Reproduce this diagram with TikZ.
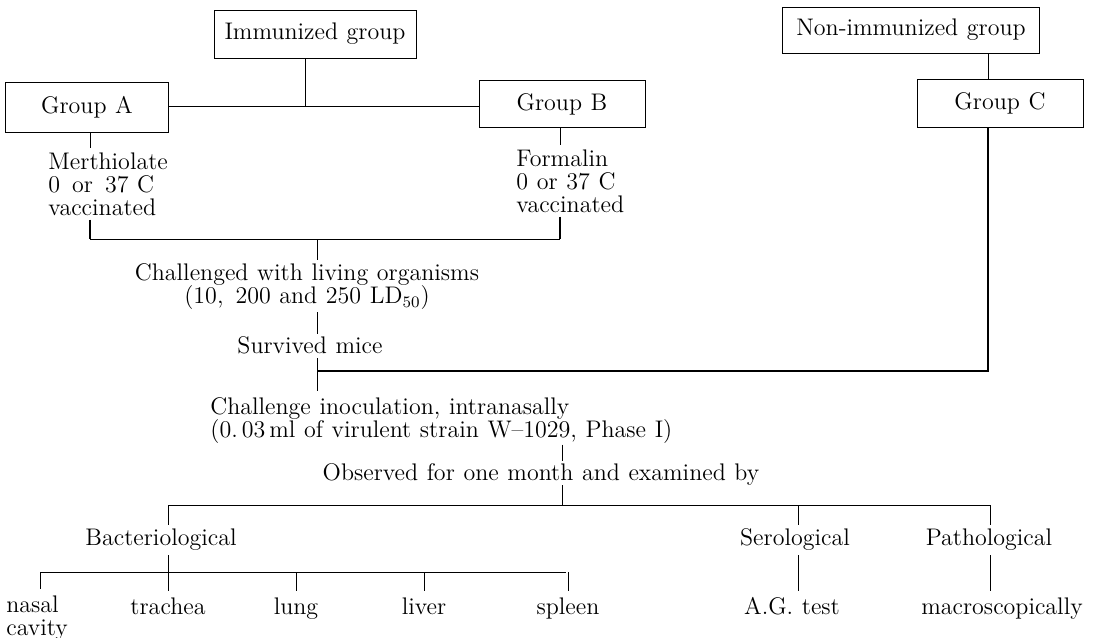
\documentclass[tikz,border=0pt]{standalone}
\usepackage{tikz}
\newcommand\diagfont{\fontsize{12}{10}\selectfont\spaceskip=0.36em plus 0.1em\relax}
\newcommand\stackfont{\fontsize{12}{11.5}\selectfont\spaceskip=0.36em plus 0.1em\relax}
\begin{document}
\begin{tikzpicture}[x=0.5pt, y=-0.5pt,
    every node/.style={font=\diagfont, inner sep=0pt},
    grp/.style={draw, line width=0.45pt, minimum height=24pt},
    stack/.style={align=left, anchor=north west, font=\stackfont},
    link/.style={line width=0.45pt},
    heavy/.style={line width=0.9pt}]
  \useasboundingbox (0,0) rectangle (1094,638);
  % groups
  \node[grp, minimum width=101pt] (imm) at (315,34) {Immunized group};
  \node[grp, minimum width=81.5pt, minimum height=25pt] (grpA) at (87,107) {Group A};
  \node[grp, minimum width=83pt, minimum height=23.5pt] (grpB) at (562,104) {Group B};
  \node[grp, minimum width=128.5pt, minimum height=23pt] (nonimm) at (911,30) {Non-immunized group};
  \node[grp, minimum width=83pt] (grpC) at (1000,103) {Group C};
  \coordinate (jImm) at (305,106);
  \coordinate (vA) at (90,239);
  \coordinate (vB) at (560,239);
  \coordinate (jMid) at (317,239);
  \coordinate (jSurv) at (317,371);
  \coordinate (jC) at (988,371);
  \draw[link] (imm.south -| jImm) -- (jImm);
  \draw[link] (grpA.east |- jImm) -- (grpB.west |- jImm);
  \draw[link] (nonimm.south -| jC) -- (grpC.north -| jC);
  % vaccines
  \node[stack] (mert) at (48,152) {Merthiolate\\0\enspace or\enspace 37 C\\vaccinated};
  \node[stack] (form) at (516,149) {Formalin\\0 or 37 C\\vaccinated};
  \draw[link] (grpA.south -| vA) -- ([yshift=2pt]mert.north -| vA);
  \draw[link] (grpB.south -| vB) -- ([yshift=2pt]form.north -| vB);
  \draw[heavy] ([yshift=-2pt]mert.south -| vA) -- (vA);
  \draw[heavy] ([yshift=-2pt]form.south -| vB) -- (vB);
  \draw[link] (vA) -- (vB);
  % challenge
  \node[stack, align=center, anchor=center] (chal) at (307,287) {Challenged with living organisms\\(10,\enspace 200 and 250 LD\textsubscript{50})};
  \node (surv) at (310,345) {Survived mice};
  \node[stack] (inoc) at (210,397) {Challenge inoculation, intranasally\\(0.\,03\,ml of virulent strain W--1029, Phase I)};
  \draw[link] (jMid) -- ([yshift=2pt]chal.north -| jMid);
  \draw[link] ([yshift=-1pt]chal.south -| jMid) -- ([yshift=1pt]surv.north -| jMid);
  \draw[link] ([yshift=-2pt]surv.south -| jMid) -- ([yshift=3pt]inoc.north -| jMid);
  \draw[heavy] (grpC.south -| jC) -- (jC) -- (jSurv);
  % examination
  \node (obs) at (541,474) {Observed for one month and examined by};
  \coordinate (vObs) at (562,505);
  \coordinate (bTop) at (168,505);
  \coordinate (sTop) at (798,505);
  \coordinate (pTop) at (990,505);
  \draw[link] ([yshift=-0.5pt]inoc.south -| vObs) -- ([yshift=1pt]obs.north -| vObs);
  \draw[link] (obs.south -| vObs) -- (vObs);
  \draw[link] (bTop) -- (pTop);
  \node (bact) at (161,540) {Bacteriological};
  \node (sero) at (795,540) {Serological};
  \node (path) at (989,540) {Pathological};
  \draw[link] (bTop) -- ([yshift=2pt]bact.north -| bTop);
  \draw[link] (sTop) -- ([yshift=2pt]sero.north -| sTop);
  \draw[link] (pTop) -- ([yshift=2pt]path.north -| pTop);
  % results
  \coordinate (orgL) at (40,572);
  \coordinate (orgR) at (566,572);
  \draw[link] (orgL) -- (orgR);
  \draw[link] ([yshift=-2pt]bact.south -| bTop) -- (bTop |- orgL);
  \node[stack] (nasal) at (6,595) {nasal\\cavity};
  \draw[link] (orgL) -- ([yshift=3pt]nasal.north -| orgL);
  \foreach \nm/\x in {trachea/168, lung/296, liver/424, spleen/568}
  {
    \node[anchor=north] (\nm) at (\x,597) {\nm};
    \draw[link] (\nm.north |- orgL) -- ([yshift=3pt]\nm.north);
  }
  \node[anchor=north] (ag) at (792,597) {A.G.\ test};
  \node[anchor=north] (macro) at (1002,597) {macroscopically};
  \draw[link] ([yshift=-2pt]sero.south -| sTop) -- ([yshift=3pt]ag.north -| sTop);
  \draw[link] ([yshift=-2pt]path.south -| pTop) -- ([yshift=3pt]macro.north -| pTop);
\end{tikzpicture}
\end{document}
